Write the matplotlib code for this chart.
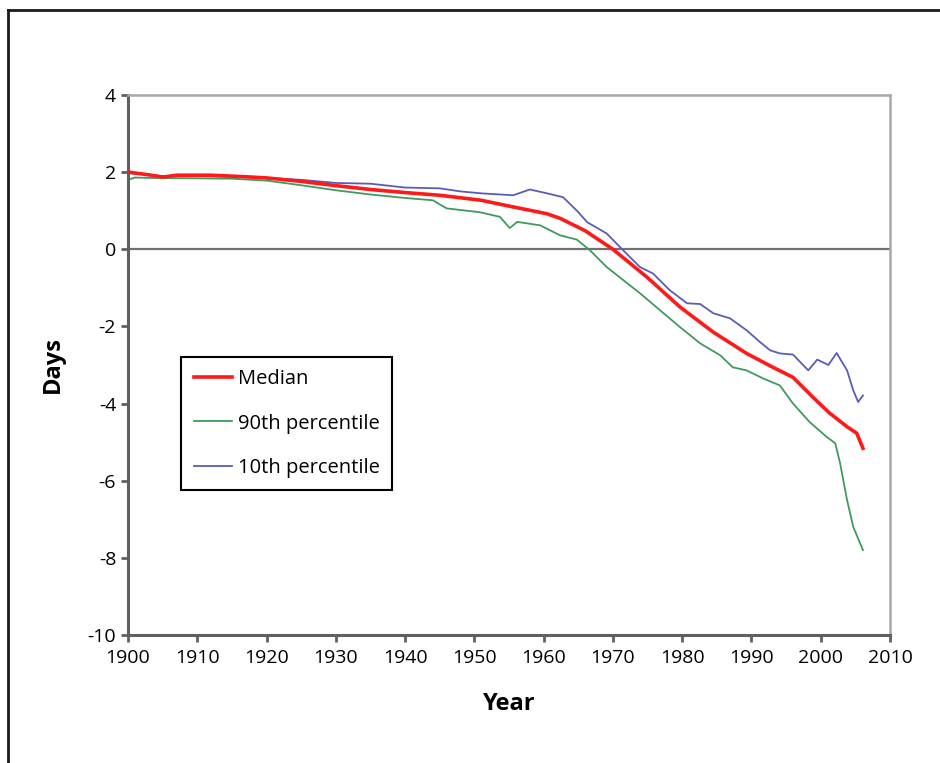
import matplotlib.pyplot as plt
from matplotlib.lines import Line2D

# values
median_years = [1900, 1903, 1905, 1907, 1912, 1917, 1920, 1925, 1930, 1935, 1940, 1945,
                1951, 1955, 1960.5, 1962.4, 1966, 1970, 1974.9, 1979.7, 1984.5, 1989.3,
                1993.1, 1996, 1998.9, 2001.3, 2003.8, 2005.2, 2006.1]
median_days = [2.0, 1.93, 1.87, 1.92, 1.92, 1.88, 1.85, 1.76, 1.65, 1.55, 1.47, 1.4,
               1.27, 1.12, 0.92, 0.8, 0.48, 0.0, -0.72, -1.5, -2.15, -2.7,
               -3.06, -3.32, -3.84, -4.25, -4.6, -4.77, -5.16]

p90_years = [1900, 1901, 1903, 1910, 1915, 1920, 1925, 1930, 1935, 1940, 1944, 1946,
             1950.8, 1953.7, 1955.1, 1956.2, 1959.5, 1962.4, 1964.8, 1966.7, 1969.1,
             1971.5, 1973.9, 1976.8, 1979.7, 1982.6, 1985.5, 1987.3, 1989.3, 1991.7,
             1994.1, 1996, 1998.4, 2000.9, 2002.1, 2002.8, 2003.8, 2004.7, 2006.1]
p90_days = [1.8, 1.86, 1.85, 1.84, 1.83, 1.78, 1.66, 1.53, 1.42, 1.33, 1.27, 1.06,
            0.96, 0.84, 0.55, 0.71, 0.62, 0.36, 0.25, -0.03, -0.46,
            -0.8, -1.14, -1.58, -2.02, -2.44, -2.75, -3.06, -3.14, -3.35,
            -3.53, -4.0, -4.48, -4.87, -5.03, -5.55, -6.5, -7.2, -7.8]

p10_years = [1900, 1905, 1910, 1915, 1920, 1925, 1930, 1935, 1940, 1945, 1948, 1951,
             1955.6, 1958, 1960.5, 1962.8, 1964.8, 1966.3, 1969.1, 1971.5, 1973.9,
             1975.8, 1978.2, 1980.7, 1982.6, 1984.5, 1986.9, 1989.3, 1991.2, 1992.7,
             1994.1, 1996, 1998.2, 1999.5, 2001.1, 2002.3, 2003.8, 2004.7, 2005.4, 2006.1]
p10_days = [1.98, 1.9, 1.9, 1.88, 1.85, 1.8, 1.72, 1.7, 1.6, 1.58, 1.5, 1.45,
            1.4, 1.55, 1.45, 1.35, 1.0, 0.7, 0.41, -0.03, -0.46,
            -0.63, -1.06, -1.4, -1.42, -1.66, -1.79, -2.1, -2.4, -2.62,
            -2.7, -2.73, -3.14, -2.86, -3.0, -2.69, -3.14, -3.66, -3.96, -3.79]

x_ticks = list(range(1900, 2011, 10))
y_ticks = list(range(-10, 5, 2))

plt.rcParams['font.family'] = ['Open Sans', 'DejaVu Sans']
plt.rcParams['axes.unicode_minus'] = False

fig = plt.figure(figsize=(9.4, 7.63), dpi=100)
ax = fig.add_axes([0.1362, 0.1678, 0.8106, 0.7077])

ax.axhline(0, color='#707070', lw=1.6, zorder=1)
ax.plot(median_years, median_days, color='#ff1a1a', lw=2.6, label='Median', zorder=3)
ax.plot(p90_years, p90_days, color='#3f9a5f', lw=1.3, label='90th percentile', zorder=2)
ax.plot(p10_years, p10_days, color='#5a5db5', lw=1.3, label='10th percentile', zorder=2)

ax.set_xlim(1900, 2010)
ax.set_ylim(-10, 4)
ax.set_xticks(x_ticks)
ax.set_yticks(y_ticks)
ax.tick_params(axis='both', labelsize=14, direction='out', color='#606060',
               width=2, length=5)
ax.tick_params(axis='x', pad=5)

for side in ['left', 'bottom']:
    ax.spines[side].set_color('#606060')
    ax.spines[side].set_linewidth(2.2)
for side in ['top', 'right']:
    ax.spines[side].set_color('#a8a8a8')
    ax.spines[side].set_linewidth(1.8)

ax.set_xlabel('Year', fontsize=17, fontweight='bold')
ax.set_ylabel('Days', fontsize=17, fontweight='bold')
ax.xaxis.set_label_coords(0.5, -0.105)
ax.yaxis.set_label_coords(-0.083, 0.5)

leg = ax.legend(loc='upper left', bbox_to_anchor=(0.0696, 0.515), borderaxespad=0,
                fancybox=False, framealpha=1, edgecolor='black', fontsize=14.5,
                handlelength=1.9, labelspacing=1.2, borderpad=0.62, handletextpad=0.3)
leg.get_frame().set_linewidth(1.5)

# outer frame around the figure (cut off at right and bottom)
fig.add_artist(Line2D([0.0085, 0.0085], [0, 0.987], transform=fig.transFigure,
                      color='#1a1a1a', lw=2))
fig.add_artist(Line2D([0.0085, 1.0], [0.987, 0.987], transform=fig.transFigure,
                      color='#1a1a1a', lw=2))

fig.savefig('out.png', dpi=100)
